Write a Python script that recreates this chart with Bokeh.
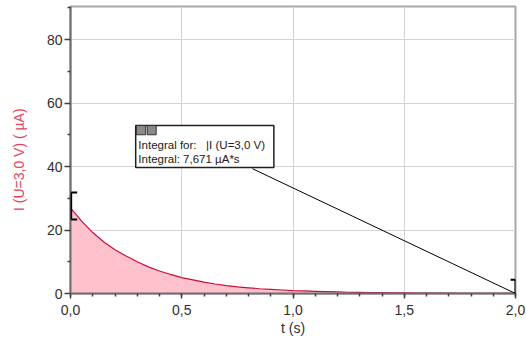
from bokeh.plotting import figure
from bokeh.models import Range1d, FixedTicker, Label, Arrow, ColumnDataSource
from bokeh.embed import file_html
from bokeh.resources import INLINE

# Data
t_vals = [0.00, 0.05, 0.10, 0.15, 0.20, 0.25, 0.30, 0.35, 0.40, 0.45, 0.50,
          0.55, 0.60, 0.65, 0.70, 0.75, 0.80, 0.85, 0.90, 0.95, 1.00,
          1.05, 1.10, 1.15, 1.20, 1.25, 1.30, 1.35, 1.40, 1.45, 1.50,
          1.55, 1.60, 1.65, 1.70, 1.75, 1.80, 1.85, 1.90, 1.95, 2.00]
i_vals = [27.0, 22.8, 19.2, 16.2, 13.8, 11.8, 10.0, 8.4, 7.1, 6.0, 5.0,
          4.3, 3.6, 3.0, 2.5, 2.1, 1.8, 1.5, 1.3, 1.1, 0.9,
          0.8, 0.7, 0.6, 0.5, 0.4, 0.35, 0.3, 0.25, 0.2, 0.2,
          0.15, 0.12, 0.1, 0.1, 0.08, 0.07, 0.06, 0.05, 0.04, 0.04]
x_ticks = [0.0, 0.5, 1.0, 1.5, 2.0]
x_tick_labels = ["0,0", "0,5", "1,0", "1,5", "2,0"]
y_ticks = [0, 20, 40, 60, 80]
NB = "\u00a0"
integral_text = ["Integral for:" + NB * 3 + "|I (U=3,0 V)", "Integral: 7,671" + NB + "\u00b5A*s"]

FONT = "Liberation Sans"

p = figure(width=526, height=344, output_backend="svg", toolbar_location=None,
           x_range=Range1d(0, 2.0), y_range=Range1d(0, 90.4),
           min_border_left=70, min_border_right=11, min_border_top=6, min_border_bottom=51)
p.background_fill_color = "white"
p.border_fill_color = "white"
p.outline_line_color = "#a8a8a8"
p.outline_line_width = 2

src = ColumnDataSource(dict(t=t_vals, i=i_vals, z=[0] * len(t_vals)))
p.varea(x="t", y1="z", y2="i", source=src, fill_color="#ffc2cd", fill_alpha=1.0)
p.line(x="t", y="i", source=src, line_color="#c8103e", line_width=1.2)

# grid
for g in (p.xgrid, p.ygrid):
    g.grid_line_color = "#d4d4d4"
    g.grid_line_width = 1
p.xgrid.ticker = FixedTicker(ticks=x_ticks[1:-1])
p.ygrid.ticker = FixedTicker(ticks=y_ticks[1:])

# axes
p.xaxis.ticker = FixedTicker(ticks=x_ticks, minor_ticks=[round(0.1 * k, 1) for k in range(21)])
p.xaxis.major_label_overrides = {x: l for x, l in zip(x_ticks, x_tick_labels)}
p.yaxis.ticker = FixedTicker(ticks=y_ticks, minor_ticks=[10, 30, 50, 70, 90])
for ax in (p.xaxis, p.yaxis):
    ax.axis_line_color = "#6e6e6e"
    ax.axis_line_width = 2
    ax.major_tick_line_color = "#404040"
    ax.minor_tick_line_color = "#404040"
    ax.major_tick_line_width = 1.5
    ax.minor_tick_line_width = 1.5
    ax.major_tick_in = 0
    ax.minor_tick_in = 0
    ax.major_label_text_font = FONT
    ax.major_label_text_font_size = "14px"
    ax.major_label_text_color = "#303030"
    ax.axis_label_text_font = FONT
    ax.axis_label_text_font_size = "14px"
    ax.axis_label_text_font_style = "normal"
p.xaxis.major_tick_out = 5
p.xaxis.minor_tick_out = 3
p.yaxis.major_tick_out = 6
p.yaxis.minor_tick_out = 3
p.xaxis.major_label_standoff = 6
p.yaxis.major_label_standoff = 2
p.xaxis.axis_label = "t (s)"
p.xaxis.axis_label_standoff = 2
p.xaxis.axis_label_text_color = "#303030"
p.yaxis.axis_label = "I (U=3,0 V) ( \u00b5A)" + NB * 5
p.yaxis.axis_label_text_color = "#e8405a"
p.yaxis.axis_label_standoff = 17

# brackets marking integration limits
for (xs, ys, xe, ye) in [(0.003, 31.8, 0.003, 23.3), (0.003, 31.8, 0.03, 31.8), (0.003, 23.3, 0.03, 23.3),
                         (2.0, 4.3, 2.0, -3.5), (2.0, 4.3, 1.978, 4.3), (2.0, -3.5, 1.978, -3.5)]:
    p.add_layout(Arrow(end=None, x_start=xs, y_start=ys, x_end=xe, y_end=ye,
                       line_color="black", line_width=2))

# connector line from box to end point
p.add_layout(Arrow(end=None, x_start=0.818, y_start=39.3, x_end=2.0, y_end=0.0,
                   line_color="black", line_width=1))

# integral box
p.quad(left=0.293, right=0.914, bottom=39.7, top=52.9, fill_color="white",
       line_color="#202020", line_width=1.5)
p.quad(left=[0.296, 0.345], right=[0.338, 0.385], bottom=[50.0, 50.0], top=[52.9, 52.9],
       fill_color="#8a8a8a", line_color="#303030", line_width=1)
p.add_layout(Label(x=0.305, y=46.8, text=integral_text[0], text_font=FONT,
                   text_font_size="11.5px", text_color="#202020", text_baseline="middle"))
p.add_layout(Label(x=0.305, y=42.3, text=integral_text[1], text_font=FONT,
                   text_font_size="11.5px", text_color="#202020", text_baseline="middle"))

open("out.html", "w").write(file_html(p, INLINE))
